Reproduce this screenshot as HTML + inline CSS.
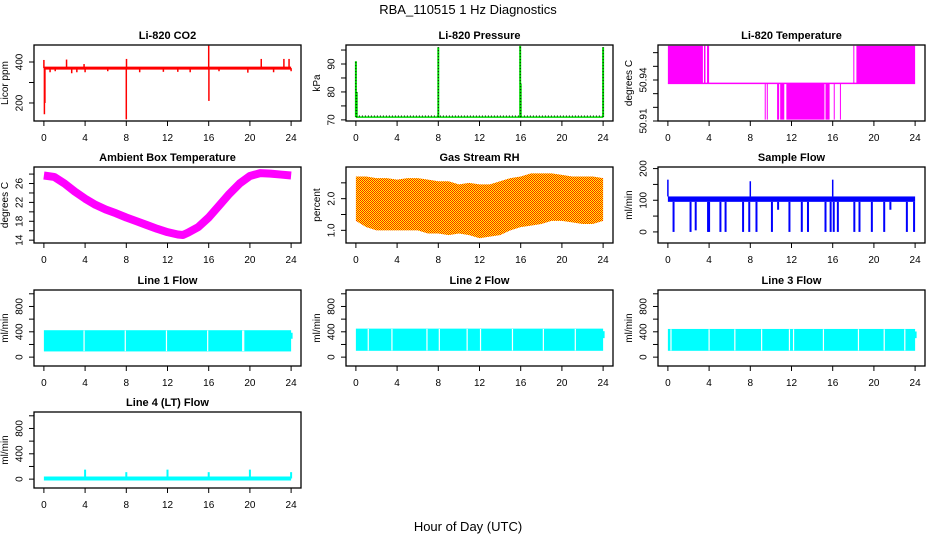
<!DOCTYPE html>
<html><head><meta charset="utf-8">
<style>
body{margin:0;background:#fff}
svg{display:block;font-family:"Liberation Sans",sans-serif}
.t{font-size:11px;font-weight:bold;text-anchor:middle}
.tk{font-size:10px;text-anchor:middle}
</style></head>
<body>
<svg id="c" width="936" height="540" viewBox="0 0 936 540">
<defs>
<pattern id="rhpat" width="2" height="2" patternUnits="userSpaceOnUse">
<rect width="2" height="2" fill="#ffff00"/><rect width="1" height="1" fill="#ff2000"/><rect x="1" y="1" width="1" height="1" fill="#ff2000"/>
</pattern>
</defs>
<text x="468" y="14" font-size="13" text-anchor="middle">RBA_110515  1 Hz Diagnostics</text>
<text x="468" y="531" font-size="13" text-anchor="middle">Hour of Day (UTC)</text>
</svg>
<script>
// ---- data ----
const xTicks=[0,4,8,12,16,20,24];
// CO2
const co2Base=370;
const co2SpikeT=[0,0.05,0.1,2.2,2.7,3.9,4.0,8.0,8.02,16.0,16.02,21.1,23.3,23.8,0.6,1.1,3.2,6.2,9.3,11.6,13.0,14.2,17.0,19.8,22.3,24.0];
const co2SpikeV=[410,145,200,412,345,390,350,120,415,480,210,415,415,415,350,355,350,355,350,352,352,350,355,348,350,355];
// Pressure
const presBase=71;
const presSpikeT=[0,0.08,8.0,15.95,16.0,24.0];
const presSpikeV=[91,80,96,96.5,83,96];
// Li-820 temperature
const tempHi=50.965, tempMid=50.9375, tempLo=50.911;
const tempUpStart=[0,3.5,3.8,18.0,18.3];
const tempUpEnd=[3.4,3.65,4.0,18.1,24.0];
const tempDnStart=[9.4,9.6,10.6,10.9,11.5,15.3,16.1,16.7];
const tempDnEnd=[9.5,9.7,10.8,11.3,15.2,15.7,16.2,16.8];
// Ambient box temperature
const ambT=[0,1,2,3,4,5,6,7,8,9,10,11,12,13,13.5,14,15,16,17,18,19,20,21,22,23,24];
const ambV=[27.7,27.4,26,24.3,22.8,21.5,20.5,19.7,18.8,18,17.2,16.4,15.7,15.2,15.1,15.6,16.8,18.8,21.3,23.8,26,27.6,28.2,28.1,27.9,27.7];
// Gas stream RH
const rhT=[0,1,2,3,4,5,6,7,8,9,10,11,12,13,14,15,16,17,18,19,20,21,22,23,24];
const rhLo=[1.3,1.1,1.0,1.0,1.0,1.0,1.0,0.9,0.9,0.85,0.9,0.85,0.75,0.8,0.85,1.0,1.1,1.15,1.2,1.3,1.3,1.25,1.2,1.2,1.3];
const rhHi=[2.7,2.7,2.65,2.65,2.6,2.65,2.65,2.6,2.55,2.55,2.45,2.5,2.45,2.45,2.55,2.65,2.7,2.8,2.8,2.8,2.75,2.7,2.7,2.7,2.65];
// Sample flow
const sfLo=95, sfHi=112;
const sfDropT=[0.55,2.2,2.7,3.9,4.0,5.1,5.6,7.3,7.9,8.6,10.1,10.7,11.8,13.0,13.6,15.3,15.8,16.1,16.5,18.1,18.6,19.8,21.0,21.6,23.2,23.9];
const sfDropV=[0,0,5,0,0,0,0,0,0,0,0,70,0,0,0,0,0,0,0,0,0,0,0,70,0,0];
const sfSpikeT=[0,8.0,16.0];
const sfSpikeV=[165,160,165];
// Line flows
const l1Lo=90, l1Hi=425; const l1GapT=[3.9,7.9,11.9,15.9,19.3,19.4];
const l2Lo=100, l2Hi=450; const l2GapT=[1.2,3.5,6.9,8.1,10.8,12.1,15.2,18.2,21.3];
const l3Lo=100, l3Hi=445; const l3GapT=[0.3,4.0,6.5,9.1,11.8,12.2,15.1,18.5,21.0,23.0];
const l4Base=10;
const l4SpikeT=[4,8,12,16,20,24];
const l4SpikeV=[150,110,150,110,150,110];

const svg=document.getElementById('c');
const NS='http://www.w3.org/2000/svg';
function el(tag,attrs,parent){const e=document.createElementNS(NS,tag);for(const k in attrs)e.setAttribute(k,attrs[k]);(parent||svg).appendChild(e);return e;}

const cols=[34,346,658], W=267, rows=[45,167,290,412], H=76;
function panel(col,row,title,ylab,yMin,yMax,ticks,labels,name){
  const x0=cols[col], y0=rows[row];
  const g=el('g',{});
  
  
  const sx=t=>x0+(t+0.96)/25.92*W;
  const sy=v=>y0+H-(v-yMin)/(yMax-yMin)*H;
  const plot=el('g',{'clip-path':''},g);
  
  
  // frame
  const fr=el('rect',{x:x0,y:y0,width:W,height:H,fill:'none',stroke:'#000','stroke-width':1.3},g);
  
  
  const tt=el('text',{x:x0+W/2,y:y0-6,class:'t'},g);tt.textContent=title;
  
  
  // x axis
  const xa=el('g',{},g);
  
  
  el('line',{x1:sx(0),x2:sx(24),y1:y0+H,y2:y0+H,stroke:'#000'},xa);
  xTicks.forEach(t=>{el('line',{x1:sx(t),x2:sx(t),y1:y0+H,y2:y0+H+5,stroke:'#000'},xa);
    const l=el('text',{x:sx(t),y:y0+H+20,class:'tk'},xa);l.textContent=t;});
  // y axis
  const ya=el('g',{},g);
  
  
  el('line',{x1:x0,x2:x0,y1:sy(ticks[0]),y2:sy(ticks[ticks.length-1]),stroke:'#000'},ya);
  ticks.forEach((v,i)=>{el('line',{x1:x0-5,x2:x0,y1:sy(v),y2:sy(v),stroke:'#000'},ya);
    if(labels[i]!==''){const l=el('text',{x:x0-12,y:sy(v)+3.5,class:'tk',transform:`rotate(-90 ${x0-15} ${sy(v)})`},ya);
      l.setAttribute('x',x0-15);l.setAttribute('y',sy(v)+3.5);l.textContent=labels[i];}});
  const yl=el('text',{x:x0-26,y:y0+H/2,class:'tk',transform:`rotate(-90 ${x0-26} ${y0+H/2})`,'font-size':'10'},g);
  yl.textContent=ylab;
  
  
  return {sx,sy,plot};
}
function vline(p,t,a,b,col,w,n){const e=el('line',{x1:p.sx(t),x2:p.sx(t),y1:p.sy(a),y2:p.sy(b),stroke:col,'stroke-width':w||1.3},p.plot);
  
  return e;}
function hline(p,t1,t2,v,col,w,n){const e=el('line',{x1:p.sx(t1),x2:p.sx(t2),y1:p.sy(v),y2:p.sy(v),stroke:col,'stroke-width':w||1},p.plot);
  
  return e;}
function band(p,t1,t2,lo,hi,fill,n){const e=el('rect',{x:p.sx(t1),y:p.sy(hi),width:Math.max(1,p.sx(t2)-p.sx(t1)),height:p.sy(lo)-p.sy(hi),fill:fill},p.plot);
  
  return e;}

// 1 CO2
let p=panel(0,0,'Li-820 CO2','Licor ppm',112,483,[200,300,400],['200','','400'],'co2');
hline(p,0,24,co2Base,'#ff0000',3,'co2-line');
co2SpikeT.forEach((t,i)=>vline(p,t,co2Base,co2SpikeV[i],'#ff0000',1.5,'co2-spike'));
// 2 Pressure
p=panel(1,0,'Li-820 Pressure','kPa',69.6,96.8,[70,75,80,85,90,95],['70','','80','','90',''],'pressure');
hline(p,0,24,presBase,'#00dd00',1.5,'pressure-line');
hline(p,0,24,presBase+0.4,'#000',1,'pressure-line-dots').setAttribute('stroke-dasharray','1 2');
presSpikeT.forEach((t,i)=>{vline(p,t,presBase,presSpikeV[i],'#00dd00',2,'pressure-spike');vline(p,t,presBase,presSpikeV[i],'#000',1,'pressure-spike-dots').setAttribute('stroke-dasharray','1 2');});
// 3 Li-820 temp
p=panel(2,0,'Li-820 Temperature','degrees C',50.91,50.9656,[50.91,50.92,50.93,50.94,50.95,50.96],['50.91','','','50.94','',''],'li820-temp');
hline(p,0,24,tempMid,'#ff00ff',1.5,'temp-line');
tempUpStart.forEach((t,i)=>band(p,t,tempUpEnd[i],tempMid,tempHi,'#ff00ff','temp-upper-block'));
tempDnStart.forEach((t,i)=>band(p,t,tempDnEnd[i],tempLo,tempMid,'#ff00ff','temp-lower-block'));
// 4 Ambient
p=panel(0,1,'Ambient Box Temperature','degrees C',13.4,29.5,[14,16,18,20,22,24,26,28],['14','','18','','22','','26',''],'ambient-temp');
{let d=ambT.map((t,i)=>(i?'L':'M')+p.sx(t)+' '+p.sy(ambV[i])).join(' ');
 const e=el('path',{d:d,fill:'none',stroke:'#ff00ff','stroke-width':8,'stroke-linejoin':'round'},p.plot);
 
 }
// 5 RH
p=panel(1,1,'Gas Stream RH','percent',0.6,3.0,[1.0,1.5,2.0,2.5],['1.0','','2.0',''],'rh');
{let top=rhT.map((t,i)=>(i?'L':'M')+p.sx(t)+' '+p.sy(rhHi[i])).join(' ');
 let bot=rhT.slice().reverse().map((t,j)=>'L'+p.sx(t)+' '+p.sy(rhLo[rhT.length-1-j])).join(' ');
 const e=el('path',{d:top+' '+bot+' Z',fill:'url(#rhpat)'},p.plot);
 
 }
// 6 Sample flow
p=panel(2,1,'Sample Flow','ml/min',-35,205,[0,50,100,150,200],['0','','100','','200'],'sample-flow');
band(p,0,24,sfLo,sfHi,'#0000ff','sample-flow-band');
sfDropT.forEach((t,i)=>vline(p,t,sfLo,sfDropV[i],'#0000ff',2,'sample-flow-drop'));
sfSpikeT.forEach((t,i)=>vline(p,t,sfHi,sfSpikeV[i],'#0000ff',1.5,'sample-flow-spike'));
// 7-9 line flows
const lf=[[0,2,'Line 1 Flow',l1Lo,l1Hi,l1GapT,'line1-flow'],[1,2,'Line 2 Flow',l2Lo,l2Hi,l2GapT,'line2-flow'],[2,2,'Line 3 Flow',l3Lo,l3Hi,l3GapT,'line3-flow']];
lf.forEach(a=>{const q=panel(a[0],a[1],a[2],'ml/min',-140,1060,[0,200,400,600,800,1000],['0','','400','','800',''],a[6]);
  band(q,0,24,a[3],a[4],'#00ffff',a[6]+'-band');
  a[5].forEach(t=>vline(q,t,a[3]+5,a[4]-5,'#fff',1.2,a[6]+'-gap'));
  vline(q,24,a[3]+200,a[4]-40,'#00ffff',3,a[6]+'-end');});
// 10 Line 4
p=panel(0,3,'Line 4 (LT) Flow','ml/min',-140,1060,[0,200,400,600,800,1000],['0','','400','','800',''],'line4-flow');
hline(p,0,24,l4Base,'#00ffff',4,'line4-flow-line');
l4SpikeT.forEach((t,i)=>vline(p,t,l4Base,l4SpikeV[i],'#00ffff',2,'line4-flow-spike'));
</script>
</body></html>
